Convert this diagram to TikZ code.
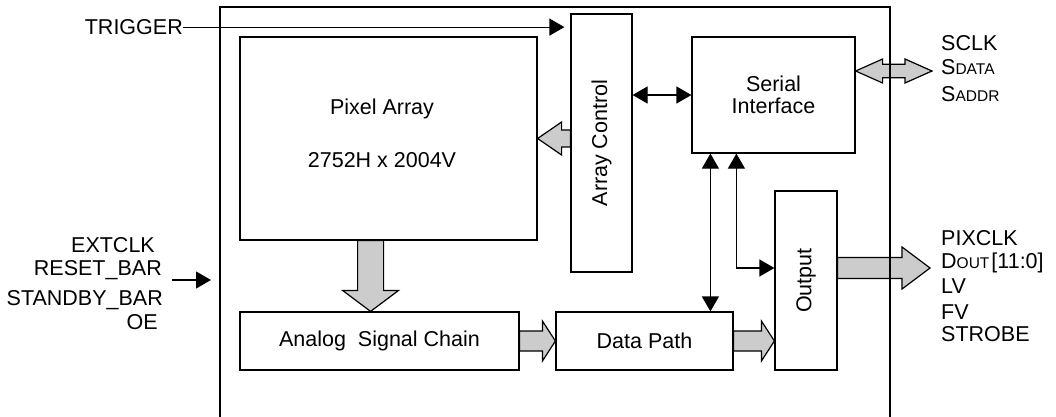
\documentclass[tikz,border=0pt]{standalone}
\usepackage{fontspec}
\setmainfont{Liberation Sans}
\usepackage{graphicx}
\usetikzlibrary{arrows.meta,calc}
\definecolor{fatgray}{gray}{0.8}
\newcommand{\fatarrow}[5]{% from, to, shaft half, head half, head length
  \path ($(#2)!#5!(#1)$) coordinate (hb);
  \draw[fat] ($(#1)!#3!90:(#2)$) -- ($(hb)!#3!90:(#2)$) -- ($(hb)!#4!90:(#2)$) -- (#2)
    -- ($(hb)!#4!-90:(#2)$) -- ($(hb)!#3!-90:(#2)$) -- ($(#1)!#3!-90:(#2)$) -- cycle;}
\newcommand{\fatdarrow}[5]{% double-headed
  \path ($(#2)!#5!(#1)$) coordinate (hb) ($(#1)!#5!(#2)$) coordinate (ha);
  \draw[fat] (#1) -- ($(ha)!#4!90:(#2)$) -- ($(ha)!#3!90:(#2)$) -- ($(hb)!#3!90:(#2)$)
    -- ($(hb)!#4!90:(#2)$) -- (#2) -- ($(hb)!#4!-90:(#2)$) -- ($(hb)!#3!-90:(#2)$)
    -- ($(ha)!#3!-90:(#2)$) -- ($(ha)!#4!-90:(#2)$) -- cycle;}
\tikzset{
  box/.style={draw, line width=1.2pt, inner sep=0pt, font=\fontsize{21.5}{22}\selectfont, align=center},
  txt/.style={inner sep=0pt, font=\fontsize{21.5}{22}\selectfont},
  sig/.style={line width=1.2pt, -{Triangle[length=15pt,width=17pt]}},
  bisig/.style={line width=1.2pt, {Triangle[length=15pt,width=17pt]}-{Triangle[length=15pt,width=17pt]}},
  fat/.style={draw, line width=1.2pt, fill=fatgray, line join=miter},
}
\begin{document}
\begin{tikzpicture}[x=1pt, y=-1pt]
\useasboundingbox (0,0) rectangle (1056,416);

% blocks
\node[box, minimum width=297pt, minimum height=203pt] (pa) at (388.5,138.5) {};
\node[txt, align=center] (patext) at (382,133.5) {Pixel Array\\[31pt]2752H x 2004V};
\node[box, minimum width=61pt, minimum height=258pt] (ac) at (601.5,143) {\rotatebox{90}{Array Control}};
\node[box, minimum width=163pt, minimum height=116pt] (si) at (773.5,95) {Serial\\Interface};
\node[box, minimum width=62pt, minimum height=179pt] (out) at (806,280.5) {\rotatebox{90}{Output}};
\node[box, minimum width=177pt, minimum height=58pt] (dp) at (644.5,341) {Data Path};
\node[box, minimum width=279pt, minimum height=58pt] (asc) at (379.5,341) {Analog\ \ Signal Chain};

% external labels
\node[txt, anchor=base east] (trig) at (183,34.5) {TRIGGER};
\node[txt, anchor=base east] (extclk) at (155,252.5) {EXTCLK};
\node[txt, anchor=base east] (reset) at (162,275.5) {RESET\_BAR};
\node[txt, anchor=base east] (stby) at (163,305.5) {STANDBY\_BAR};
\node[txt, anchor=base east] (oe) at (158,329.5) {OE};
\node[txt, anchor=base west] (sclk) at (941,50.5) {SCLK};
\node[txt, anchor=base west] (sdata) at (941,74.5) {S{\fontsize{15.5}{15}\selectfont DATA}};
\node[txt, anchor=base west] (saddr) at (941,101.5) {S{\fontsize{15.5}{15}\selectfont ADDR}};
\node[txt, anchor=base west] (pixclk) at (941,245) {PIXCLK};
\node[txt, anchor=base west] (dout) at (941,268.5) {D{\fontsize{15.5}{15}\selectfont OUT}\hspace{2pt}[11:0]};
\node[txt, anchor=base west] (lv) at (941,293.5) {LV};
\node[txt, anchor=base west] (fv) at (941,319.5) {FV};
\node[txt, anchor=base west] (strobe) at (941,341.5) {STROBE};

% coordinates for free ends
\coordinate (inL) at (172,280);
\coordinate (chipL) at (220,280);
\coordinate (sclkR) at (932,71);
\coordinate (siR) at (si.east |- sclkR);
\coordinate (outR) at (930,268);
\coordinate (outL) at (out.east |- outR);
\coordinate (acL) at (ac.west |- pa.east);
\coordinate (pdown) at ($(pa.south west)!0.44!(pa.south east)$);
\coordinate (pdownE) at (pdown |- asc.north);
\coordinate (dpR) at (out.west |- dp.east);
\coordinate (v1) at ($(si.south west)+(19,0)$);
\coordinate (v2) at ($(si.south west)+(45,0)$);

% fat bus arrows
\fatarrow{acL}{pa.east}{8.5pt}{16.5pt}{24pt}
\fatarrow{pdown}{pdownE}{13pt}{28pt}{21pt}
\fatarrow{asc.east}{dp.west}{10pt}{20pt}{13pt}
\fatarrow{dp.east}{dpR}{10pt}{20pt}{13pt}
\fatarrow{outL}{outR}{10.5pt}{21pt}{28pt}
\fatdarrow{siR}{sclkR}{6.7pt}{12pt}{27pt}

% signal arrows
\draw[sig, shorten >=6pt] (trig.east) -- (trig.east -| ac.west);
\draw[sig, shorten >=9pt] (inL) -- (chipL);
\draw[bisig] (ac.east |- si.west) -- (si.west);
\draw[bisig] (v1) -- (v1 |- dp.north);
\draw[bisig] (v2) -- (v2 |- outR) -- (out.west |- outR);

% chip outline (open at bottom)
\draw[line width=1.2pt] (220,420) -- (220,7) -- (890,7) -- (890,420);
\end{tikzpicture}
\end{document}
